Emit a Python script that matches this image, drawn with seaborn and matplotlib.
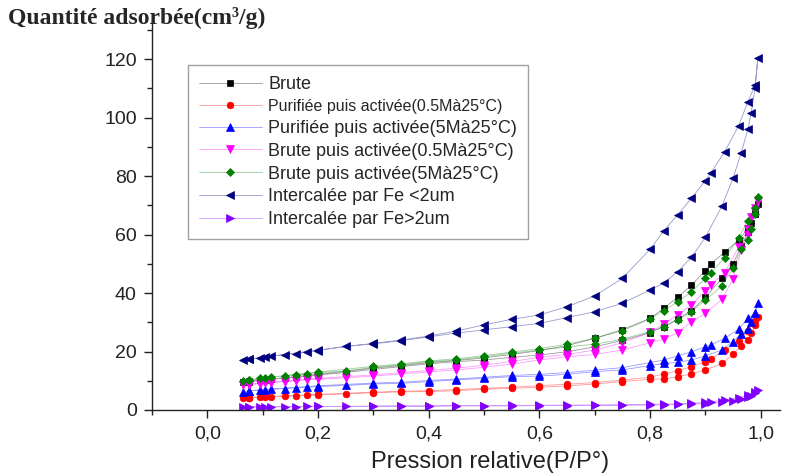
import numpy as np
import pandas as pd
import matplotlib
matplotlib.use("Agg")
import matplotlib.pyplot as plt
import matplotlib.colors as mcolors
import seaborn as sns
from matplotlib.ticker import MultipleLocator, FuncFormatter

# Isothermes d'adsorption (branche adsorption puis désorption)

P_ads = [0.065, 0.075, 0.095, 0.105, 0.115, 0.14, 0.16, 0.18, 0.20, 0.25,
         0.30, 0.35, 0.40, 0.45, 0.50, 0.55, 0.60, 0.65, 0.70, 0.75,
         0.80, 0.825, 0.85, 0.875, 0.90, 0.93, 0.95, 0.965, 0.977, 0.983,
         0.99, 0.995]
P_des = [0.99, 0.977, 0.96, 0.935, 0.91, 0.90, 0.875, 0.85, 0.825, 0.80,
         0.75, 0.70, 0.65, 0.60, 0.55, 0.50, 0.45, 0.40, 0.35, 0.30,
         0.20, 0.075]

brute_ads = [9.5, 9.8, 10.2, 10.4, 10.6, 11.0, 11.3, 11.7, 12.0, 12.8,
             13.9, 14.8, 15.8, 16.5, 17.1, 18.0, 18.8, 19.9, 21.6, 23.8,
             26.4, 28.5, 31.0, 34.0, 38.5, 45.0, 50.0, 56.0, 61.0, 64.0,
             67.0, 70.5]
brute_des = [67.5, 62.1, 58.0, 54.0, 50.0, 47.6, 42.7, 38.5, 34.8, 31.3,
             27.5, 24.5, 22.0, 20.3, 19.0, 17.8, 16.9, 16.2, 15.2, 14.3,
             12.2, 9.7]

pur05_ads = [4.0, 4.2, 4.4, 4.5, 4.6, 4.8, 4.9, 5.0, 5.1, 5.5,
             5.9, 6.2, 6.3, 6.6, 7.1, 7.4, 7.8, 8.2, 8.9, 9.7,
             10.5, 10.6, 11.4, 12.3, 13.7, 15.9, 19.0, 22.0, 23.9, 26.2,
             29.0, 31.9]
pur05_des = [30.5, 27.0, 23.5, 20.5, 17.3, 16.5, 14.8, 13.4, 12.3, 11.2,
             10.2, 9.4, 8.8, 8.3, 7.8, 7.4, 7.0, 6.6, 6.4, 6.1,
             5.3, 4.2]

pur5_ads = [6.3, 6.5, 6.8, 7.0, 7.1, 7.3, 7.6, 7.8, 8.0, 8.4,
            8.9, 9.1, 9.7, 10.3, 10.8, 11.4, 11.6, 12.2, 13.1, 13.7,
            15.2, 15.9, 16.3, 17.1, 18.5, 20.5, 23.4, 26.0, 27.6, 30.2,
            33.0, 36.5]
pur5_des = [33.3, 31.3, 27.6, 24.5, 22.2, 21.6, 19.9, 18.5, 17.1, 16.2,
            14.5, 13.6, 12.8, 12.2, 11.8, 11.2, 10.6, 10.1, 9.5, 9.2,
            8.3, 6.6]

brute05_ads = [8.5, 8.7, 9.0, 9.2, 9.4, 9.7, 10.0, 10.3, 10.5, 11.0,
               11.6, 12.3, 13.0, 13.7, 14.6, 15.7, 17.1, 18.2, 19.0, 20.5,
               23.0, 24.2, 26.4, 30.2, 33.0, 37.8, 44.7, 54.7, 60.0, 66.1,
               69.0, 71.6]
brute05_des = [68.0, 62.0, 55.6, 47.0, 42.7, 40.8, 35.9, 32.5, 29.4, 26.5,
               23.0, 20.5, 19.0, 18.0, 16.6, 15.3, 14.3, 13.5, 12.8, 12.0,
               10.8, 8.8]

brute5_ads = [10.0, 10.3, 10.8, 11.0, 11.3, 11.7, 12.1, 12.4, 12.8, 13.3,
              14.6, 15.4, 16.5, 17.1, 18.2, 19.4, 20.5, 21.6, 22.5, 24.2,
              26.8, 28.5, 30.8, 33.6, 37.6, 42.4, 48.4, 55.0, 58.0, 62.0,
              67.0, 72.9]
brute5_des = [69.0, 64.7, 58.7, 51.9, 47.0, 45.0, 40.4, 37.0, 34.0, 31.1,
              27.1, 24.5, 22.5, 21.0, 19.8, 18.6, 17.5, 16.8, 15.8, 14.9,
              13.0, 10.3]

fe_petit_ads = [17.0, 17.3, 17.8, 18.1, 18.4, 18.9, 19.3, 19.8, 20.3, 21.8,
                22.6, 23.7, 25.0, 26.3, 27.4, 28.5, 29.6, 31.6, 33.6, 36.5,
                41.0, 43.4, 47.3, 52.2, 59.0, 69.7, 79.2, 88.0, 96.0, 101.7,
                110.0, 120.2]
fe_petit_des = [111.1, 105.4, 97.1, 88.3, 81.1, 78.4, 72.4, 66.7, 61.3, 54.9,
                45.0, 39.0, 35.3, 32.5, 31.0, 29.1, 27.0, 25.3, 23.9, 22.8,
                20.5, 17.4]

fe_grand_ads = [1.0, 1.0, 1.0, 1.1, 1.1, 1.1, 1.1, 1.2, 1.2, 1.2,
                1.3, 1.3, 1.3, 1.4, 1.4, 1.4, 1.5, 1.5, 1.6, 1.6,
                1.7, 1.8, 1.9, 2.0, 2.2, 2.6, 3.2, 3.7, 4.3, 4.9,
                5.7, 6.8]
fe_grand_des = [6.0, 5.0, 4.2, 3.4, 2.8, 2.6, 2.3, 2.1, 2.0, 1.9,
                1.8, 1.7, 1.7, 1.6, 1.6, 1.5, 1.5, 1.4, 1.4, 1.3,
                1.2, 1.1]

labels = [
    "Brute",
    "Purifiée puis activée(0.5Mà25°C)",
    "Purifiée puis activée(5Mà25°C)",
    "Brute puis activée(0.5Mà25°C)",
    "Brute puis activée(5Mà25°C)",
    "Intercalée par Fe <2um",
    "Intercalée par Fe>2um",
]
x_ticks = [0.0, 0.2, 0.4, 0.6, 0.8, 1.0]
y_ticks = [0, 20, 40, 60, 80, 100, 120]

series = [
    (brute_ads, brute_des, "#000000", "s", 4.5),
    (pur05_ads, pur05_des, "#FF0000", "o", 4.8),
    (pur5_ads, pur5_des, "#0000FF", "^", 5.5),
    (brute05_ads, brute05_des, "#FF00FF", "v", 5.5),
    (brute5_ads, brute5_des, "#008000", "D", 4.5),
    (fe_petit_ads, fe_petit_des, "#000080", "<", 5.5),
    (fe_grand_ads, fe_grand_des, "#8000FF", ">", 5.5),
]

sns.set_theme(style="ticks")
plt.rcParams["font.family"] = ["Liberation Sans", "DejaVu Sans"]

fig = plt.figure(figsize=(8.1, 4.74), dpi=100)
ax = fig.add_axes([152 / 810, 64 / 474, 628 / 810, 389 / 474])

for lab, (ads, des, c, m, ms) in zip(labels, series):
    df = pd.DataFrame({"P": P_ads + P_des, "Q": ads + des})
    sns.lineplot(
        data=df, x="P", y="Q", sort=False, estimator=None, ax=ax,
        color=mcolors.to_rgba(c, 0.4), lw=0.6, marker=m, markersize=ms,
        markerfacecolor=c, markeredgecolor=c, markeredgewidth=0.5, label=lab,
    )

ax.set_xlim(-0.1, 1.035)
ax.set_ylim(0, 133)
ax.set_xticks(x_ticks)
ax.set_yticks(y_ticks)
ax.xaxis.set_minor_locator(MultipleLocator(0.1))
ax.yaxis.set_minor_locator(MultipleLocator(10))
ax.xaxis.set_major_formatter(FuncFormatter(lambda v, pos: f"{v:.1f}".replace(".", ",")))
ax.tick_params(which="major", length=6, width=1, color="#222222",
               labelsize=14, labelcolor="#222222")
ax.tick_params(axis="x", which="major", pad=5)
ax.tick_params(axis="y", which="major", pad=5)
ax.tick_params(which="minor", length=3.5, width=1, color="#222222")
sns.despine(ax=ax)
for s in ["left", "bottom"]:
    ax.spines[s].set_color("#222222")
    ax.spines[s].set_linewidth(1.0)

ax.set_ylabel("")
ax.set_xlabel("Pression relative(P/P°)", fontsize=17, color="#222222")
ax.xaxis.set_label_coords(0.538, -0.105)

fig.text(0.01, 0.963, "Quantité adsorbée(cm³/g)", fontsize=17, fontweight="bold",
         family=["Liberation Serif", "DejaVu Serif"], va="center", ha="left")

handles, labs = ax.get_legend_handles_labels()
leg = ax.legend(handles, labs, loc="upper left", bbox_to_anchor=(188 / 810, 1 - 65 / 474),
                bbox_transform=fig.transFigure, borderaxespad=0, frameon=True,
                fancybox=False, edgecolor="#888888", fontsize=13, handlelength=3.5,
                handletextpad=0.35, labelspacing=0.32, borderpad=0.6)
leg.get_frame().set_linewidth(1.0)
leg.get_texts()[1].set_fontsize(11.5)

fig.savefig("out.png", dpi=100)
